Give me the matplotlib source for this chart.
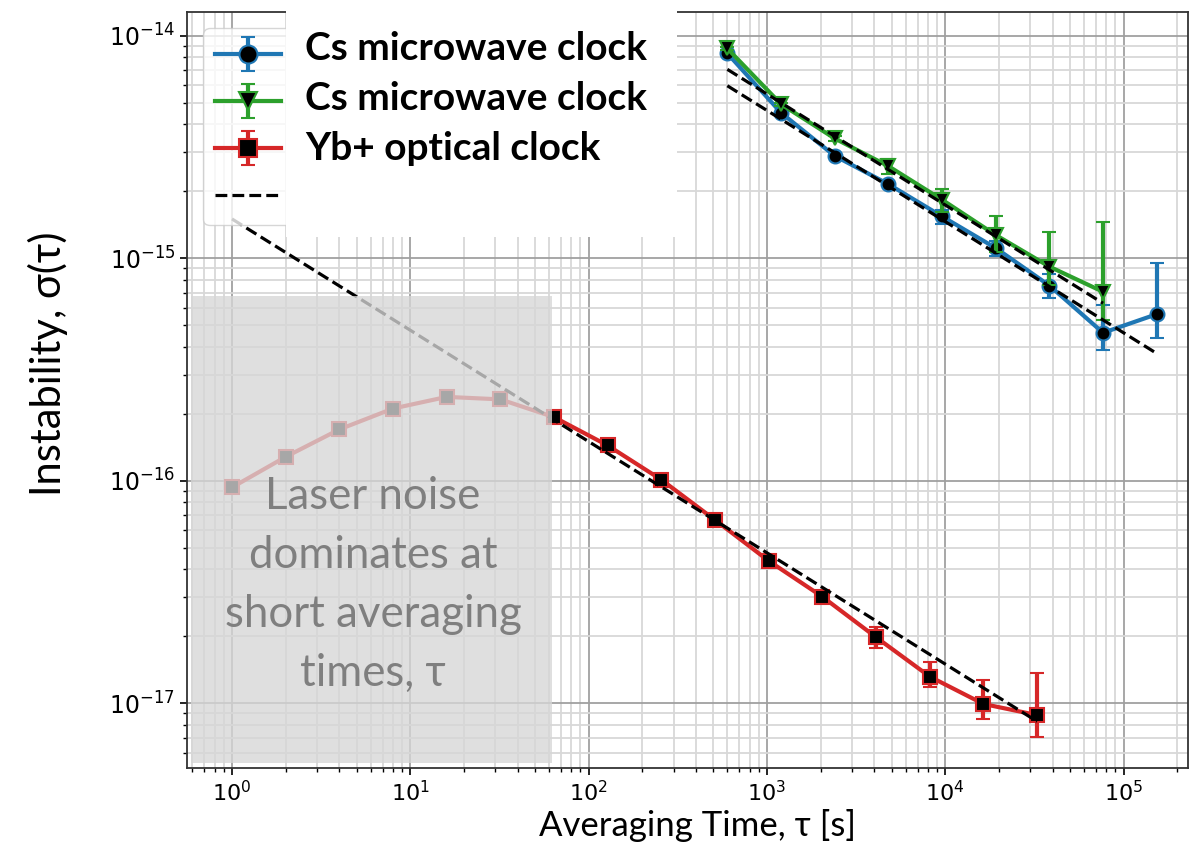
import matplotlib
matplotlib.use("Agg")
import matplotlib.pyplot as plt
from matplotlib.patches import Rectangle
from matplotlib.ticker import FixedLocator, LogLocator

# ---------------- data ----------------
# Cs microwave clock #1 (blue)
cs1_tau = [600, 1200, 2400, 4800, 9600, 19200, 38400, 76800, 153600]
cs1_sigma = [8.32e-15, 4.50e-15, 2.88e-15, 2.15e-15, 1.54e-15, 1.11e-15, 7.53e-16, 4.62e-16, 5.60e-16]
cs1_err_lo = [0.04e-15, 0.04e-15, 0.04e-15, 0.05e-15, 0.11e-15, 0.09e-15, 0.94e-16, 0.76e-16, 1.24e-16]
cs1_err_hi = [0.04e-15, 0.04e-15, 0.04e-15, 0.05e-15, 0.11e-15, 0.09e-15, 0.94e-16, 1.53e-16, 3.88e-16]

# Cs microwave clock #2 (green)
cs2_tau = [600, 1200, 2400, 4800, 9600, 19200, 38400, 76800]
cs2_sigma = [8.75e-15, 4.92e-15, 3.45e-15, 2.59e-15, 1.83e-15, 1.27e-15, 9.16e-16, 7.06e-16]
cs2_err_lo = [0.15e-15, 0.08e-15, 0.10e-15, 0.20e-15, 0.22e-15, 0.20e-15, 1.6e-16, 1.8e-16]
cs2_err_hi = [0.15e-15, 0.08e-15, 0.10e-15, 0.20e-15, 0.22e-15, 0.28e-15, 0.39e-15, 0.75e-15]

# Yb+ optical clock (red)
yb_tau = [1, 2, 4, 8, 16, 32, 64, 128, 256, 512, 1024, 2048, 4096, 8192, 16384, 32768]
yb_sigma = [9.33e-17, 1.28e-16, 1.70e-16, 2.11e-16, 2.38e-16, 2.32e-16, 1.93e-16, 1.44e-16,
            1.01e-16, 6.66e-17, 4.36e-17, 3.01e-17, 1.98e-17, 1.318e-17, 9.93e-18, 8.85e-18]
yb_err_lo = [1e-18, 1e-18, 1e-18, 1e-18, 1e-18, 1e-18, 1e-18, 1e-18,
             1e-18, 1e-18, 0.8e-18, 0.8e-18, 2.0e-18, 1.4e-18, 1.46e-18, 1.77e-18]
yb_err_hi = [1e-18, 1e-18, 1e-18, 1e-18, 1e-18, 1e-18, 1e-18, 1e-18,
             1e-18, 1e-18, 0.8e-18, 0.8e-18, 2.3e-18, 2.1e-18, 2.8e-18, 4.9e-18]

# tau^-1/2 guide lines (end points)
fit_yb_tau = [1, 32768]
fit_yb_sigma = [1.5e-15, 8.29e-18]
fit_cs_hi_tau = [600, 76800]
fit_cs_hi_sigma = [7.05e-15, 6.27e-16]
fit_cs_lo_tau = [600, 153600]
fit_cs_lo_sigma = [5.95e-15, 3.73e-16]

x_major_ticks = [1e0, 1e1, 1e2, 1e3, 1e4, 1e5]
y_major_ticks = [1e-17, 1e-16, 1e-15, 1e-14]

legend_labels = ["Cs microwave clock", "Cs microwave clock", "Yb+ optical clock"]
overlay_text = "Laser noise\ndominates at\nshort averaging\ntimes, τ"
xlabel = "Averaging Time, τ [s]"
ylabel = "Instability, σ(τ)"

BLUE, GREEN, RED = "#1f77b4", "#2ca02c", "#d62728"

# ---------------- figure ----------------
W, H = 1190, 844
fig = plt.figure(figsize=(W / 100, H / 100), dpi=100)
ax = fig.add_axes([187 / W, 1 - 768 / H, (1188 - 187) / W, (768 - 12) / H])
ax.set_xscale("log")
ax.set_yscale("log")
ax.set_xlim(0.5594, 2.30e5)
ax.set_ylim(5.12e-18, 1.276e-14)
ax.xaxis.set_major_locator(FixedLocator(x_major_ticks))
ax.yaxis.set_major_locator(FixedLocator(y_major_ticks))
ax.xaxis.set_minor_locator(LogLocator(base=10, subs=range(2, 10), numticks=20))
ax.yaxis.set_minor_locator(LogLocator(base=10, subs=range(2, 10), numticks=20))

ax.set_axisbelow(True)
ax.grid(True, which="major", color="#a0a0a0", lw=1.3)
ax.grid(True, which="minor", color="#d8d8d8", lw=1.3)

common = dict(mfc="black", ms=10, mew=1.5, lw=3.0, elinewidth=3, capsize=4.7, capthick=2)
h1 = ax.errorbar(cs1_tau, cs1_sigma, yerr=[cs1_err_lo, cs1_err_hi], color=BLUE, marker="o",
                 mec=BLUE, zorder=3, **common)
h2 = ax.errorbar(cs2_tau, cs2_sigma, yerr=[cs2_err_lo, cs2_err_hi], color=GREEN, marker="v",
                 mec=GREEN, zorder=4, **common)
h3 = ax.errorbar(yb_tau, yb_sigma, yerr=[yb_err_lo, yb_err_hi], color=RED, marker="s",
                 mec=RED, zorder=3, **common)
dash_kw = dict(color="black", ls="--", lw=2.3, zorder=5)
h4, = ax.plot(fit_yb_tau, fit_yb_sigma, **dash_kw)
ax.plot(fit_cs_hi_tau, fit_cs_hi_sigma, **dash_kw)
ax.plot(fit_cs_lo_tau, fit_cs_lo_sigma, **dash_kw)

ax.tick_params(axis="y", which="major", labelsize=17, length=5, width=1.2)
ax.tick_params(axis="x", which="major", labelsize=16, length=5, width=1.2)
ax.tick_params(which="minor", length=3, width=1, labelleft=False, labelbottom=False)
for s in ax.spines.values():
    s.set_color("#333333")
    s.set_linewidth(1.3)

ax.set_xlabel(xlabel, family=["Lato", "DejaVu Sans"], fontsize=25)
ax.xaxis.set_label_coords(0.51, -0.0767)
ax.xaxis.label.set_va("center")
ax.set_ylabel(ylabel, family=["Lato", "DejaVu Sans"], fontsize=30)
ax.yaxis.set_label_coords((48 - 187) / 1001, 1 - (364 - 12) / 756)
ax.yaxis.label.set_va("center")

# legend (handles only; labels are written on the white box)
leg = ax.legend([h1, h2, h3, h4], ["", "", "", ""], loc="upper left",
                bbox_to_anchor=(203 / W, 1 - 28 / H), bbox_transform=fig.transFigure,
                borderaxespad=0, fontsize=24, borderpad=0.35, labelspacing=0.42,
                handlelength=2.0, handletextpad=0.3, framealpha=0.8, markerscale=1.3)

# grey overlay for laser-noise region
fig.add_artist(Rectangle((191 / W, 1 - 763 / H), (552 - 191) / W, (763 - 296) / H,
                         transform=fig.transFigure, facecolor="#d7d7d7", alpha=0.78,
                         edgecolor="none", zorder=10))
fig.text(373 / W, 1 - 585 / H, overlay_text, ha="center", va="center", multialignment="center",
         color="#7f7f7f", fontsize=31.5, family=["Lato", "DejaVu Sans"], linespacing=1.55, zorder=11)

# white box with legend labels
fig.add_artist(Rectangle((286 / W, 1 - 237 / H), (677 - 286) / W, 237 / H,
                         transform=fig.transFigure, facecolor="white", edgecolor="none", zorder=12))
for lab, yb in zip(legend_labels, [60, 110, 160]):
    fig.text(305 / W, 1 - yb / H, lab, ha="left", va="baseline", fontsize=28, fontweight="bold",
             family=["Lato", "DejaVu Sans"], color="black", zorder=13)

fig.savefig("out.png", dpi=100)
